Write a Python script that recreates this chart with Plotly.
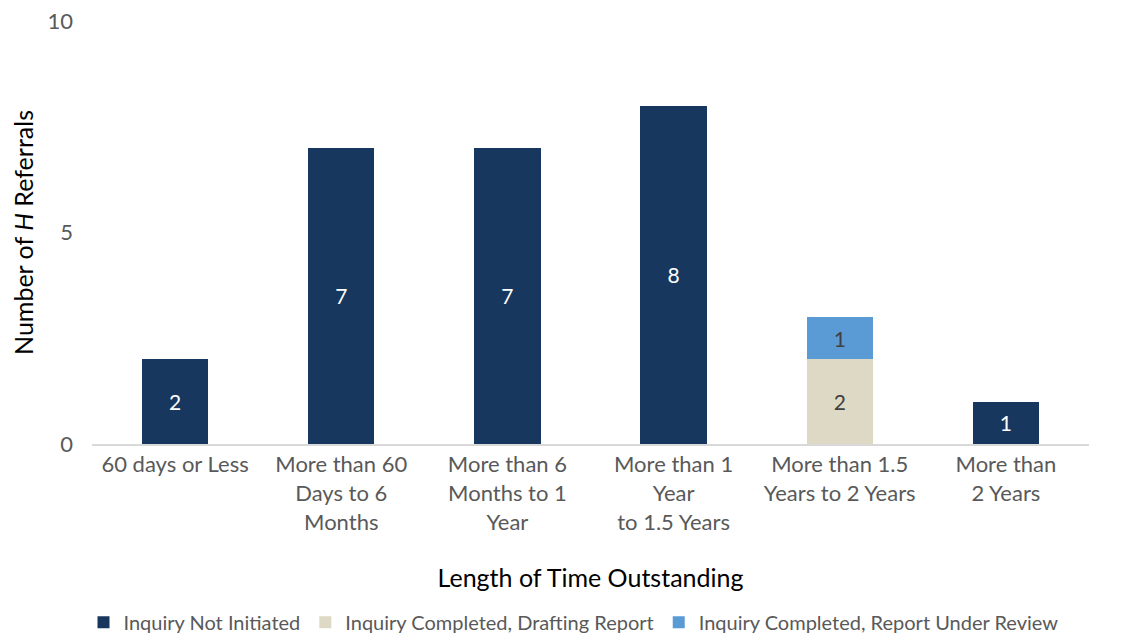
import plotly.graph_objects as go

categories = ["60 days or Less", "More than 60<br>Days to 6<br>Months", "More than 6<br>Months to 1<br>Year",
              "More than 1<br>Year<br>to 1.5 Years", "More than 1.5<br>Years to 2 Years", "More than<br>2 Years"]
not_initiated = [2, 7, 7, 8, None, 1]
drafting = [None, None, None, None, 2, None]
under_review = [None, None, None, None, 1, None]

FONT = "Lato"
fig = go.Figure()
fig.add_bar(x=categories, y=not_initiated, name="Inquiry Not Initiated", marker_color="#17375E",
            text=not_initiated, textposition="inside", insidetextanchor="middle",
            textfont=dict(color="white", size=21, family=FONT))
fig.add_bar(x=categories, y=drafting, name="Inquiry Completed, Drafting Report", marker_color="#DDD9C4",
            text=drafting, textposition="inside", insidetextanchor="middle",
            textfont=dict(color="#404040", size=21, family=FONT))
fig.add_bar(x=categories, y=under_review, name="Inquiry Completed, Report Under Review", marker_color="#5B9BD5",
            text=under_review, textposition="inside", insidetextanchor="middle",
            textfont=dict(color="#404040", size=21, family=FONT))

fig.update_traces(marker_line_width=0, texttemplate="%{y}")
fig.update_layout(
    barmode="stack", bargap=0.6,
    width=1131, height=628,
    margin=dict(l=84, r=50, t=13, b=192, autoexpand=False),
    plot_bgcolor="white", paper_bgcolor="white",
    font=dict(family=FONT, size=22, color="#595959"),
    uniformtext=dict(mode="show", minsize=10),
    legend=dict(orientation="h", xref="container", yref="container", x=0.5, xanchor="center",
                y=0.022, yanchor="middle",
                font=dict(size=20, color="#595959"), traceorder="normal", itemwidth=30,
                tracegroupgap=0),
    xaxis=dict(title=dict(text="Length of Time Outstanding", font=dict(size=25, color="black"), standoff=36),
               automargin=False,
               showline=True, linecolor="#D9D9D9", linewidth=2, ticks="", tickfont=dict(size=22, color="#595959")),
    yaxis=dict(title=dict(text="Number of <i>H</i> Referrals", font=dict(size=25, color="black"), standoff=16),
               automargin=False, ticklabeloverflow="allow",
               range=[0, 10], tickvals=[0, 5, 10], showgrid=False, zeroline=False, showline=False,
               tickfont=dict(size=22, color="#595959"), ticklabelstandoff=18),
)
fig.write_html("out.html")
